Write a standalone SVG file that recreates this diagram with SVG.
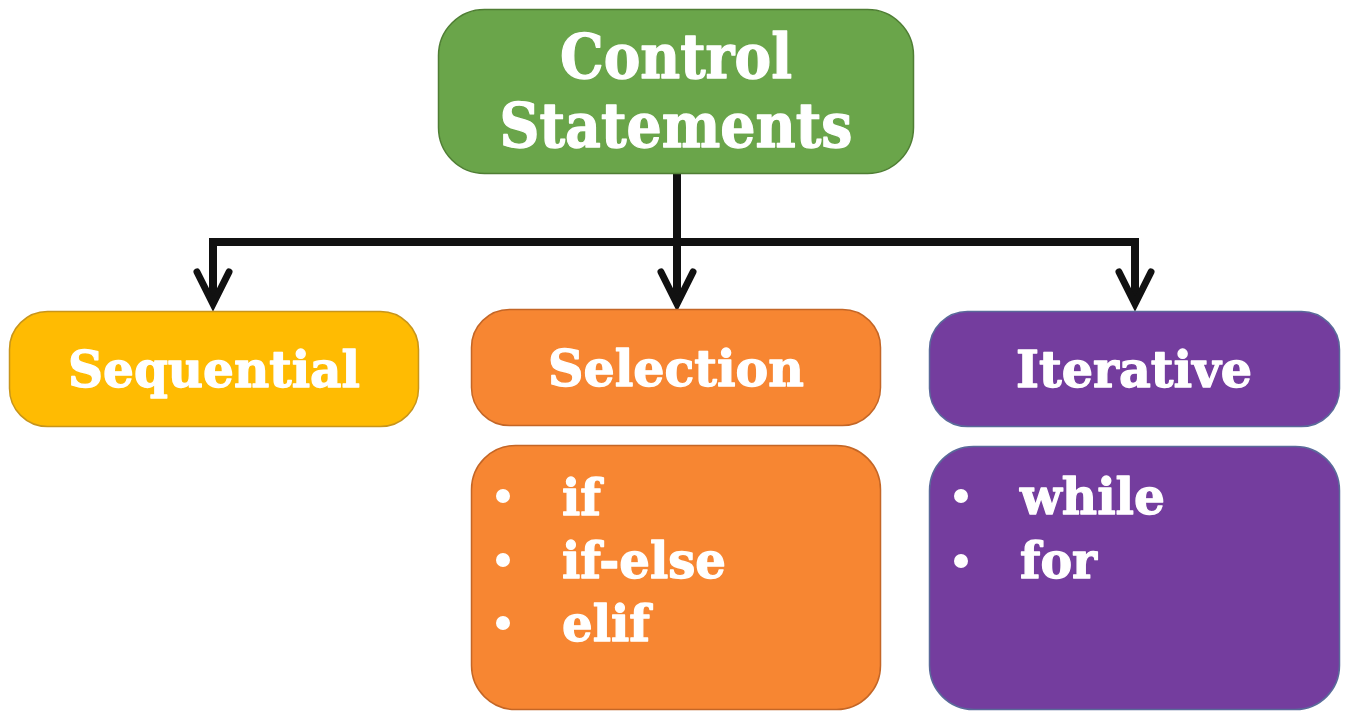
<svg xmlns="http://www.w3.org/2000/svg" width="1353" height="727" viewBox="0 0 1353 727">
<style>
.t{font-family:"DejaVu Serif","Liberation Serif",serif;font-weight:bold;fill:#ffffff;stroke:#ffffff;stroke-width:1.3;stroke-linejoin:round}
.conn{fill:none;stroke:#111111;stroke-width:8}
.head{fill:none;stroke:#111111;stroke-width:7;stroke-linecap:round;stroke-linejoin:miter}
.dot{fill:#ffffff}
</style>
<rect width="1353" height="727" fill="#ffffff"/>
<g id="connectors">
<path class="conn" d="M677,174 V242 M209,242 H1139 M213,238 V300 M677,242 V300 M1135,238 V300"/>
<path class="head" d="M197,272 L213,304 L229,272"/>
<path class="head" d="M661,272 L677,304 L693,272"/>
<path class="head" d="M1119,272 L1135,304 L1151,272"/>
</g>
<g id="control">
<rect x="438.5" y="9.5" width="475" height="164" rx="46" fill="#6aa54a" stroke="#4f7e34" stroke-width="1.5"/>
<text class="t" x="676" y="78" text-anchor="middle" font-size="62" textLength="232" lengthAdjust="spacingAndGlyphs">Control</text>
<text class="t" x="676" y="147" text-anchor="middle" font-size="62" textLength="353" lengthAdjust="spacingAndGlyphs">Statements</text>
</g>
<g id="sequential">
<rect x="9.5" y="311.5" width="409" height="115" rx="38" fill="#ffbb02" stroke="#c8951a" stroke-width="1.5"/>
<text class="t" x="214" y="387" text-anchor="middle" font-size="51" textLength="292" lengthAdjust="spacingAndGlyphs">Sequential</text>
</g>
<g id="selection">
<rect x="471.5" y="309.5" width="409" height="116" rx="38" fill="#f78632" stroke="#c46626" stroke-width="1.5"/>
<text class="t" x="676" y="386" text-anchor="middle" font-size="51" textLength="256" lengthAdjust="spacingAndGlyphs">Selection</text>
</g>
<g id="iterative">
<rect x="929.5" y="311.5" width="410" height="115" rx="38" fill="#743d9e" stroke="#5a6a9a" stroke-width="1.5"/>
<text class="t" x="1134" y="387" text-anchor="middle" font-size="51" textLength="236" lengthAdjust="spacingAndGlyphs">Iterative</text>
</g>
<g id="selection-list">
<rect x="471.5" y="445.5" width="409" height="264" rx="44" fill="#f78632" stroke="#c46626" stroke-width="1.5"/>
<circle class="dot" cx="503" cy="496" r="7"/>
<circle class="dot" cx="503" cy="560" r="7"/>
<circle class="dot" cx="503" cy="623" r="7"/>
<text class="t" x="562" y="515" font-size="51" textLength="39" lengthAdjust="spacingAndGlyphs">if</text>
<text class="t" x="562" y="578" font-size="51" textLength="164" lengthAdjust="spacingAndGlyphs">if-else</text>
<text class="t" x="562" y="641" font-size="51" textLength="88" lengthAdjust="spacingAndGlyphs">elif</text>
</g>
<g id="iterative-list">
<rect x="929.5" y="446.5" width="410" height="263" rx="44" fill="#743d9e" stroke="#5a6a9a" stroke-width="1.5"/>
<circle class="dot" cx="961" cy="496" r="7"/>
<circle class="dot" cx="961" cy="561" r="7"/>
<text class="t" x="1020" y="514" font-size="51" textLength="145" lengthAdjust="spacingAndGlyphs">while</text>
<text class="t" x="1020" y="578" font-size="51" textLength="77" lengthAdjust="spacingAndGlyphs">for</text>
</g>
</svg>
